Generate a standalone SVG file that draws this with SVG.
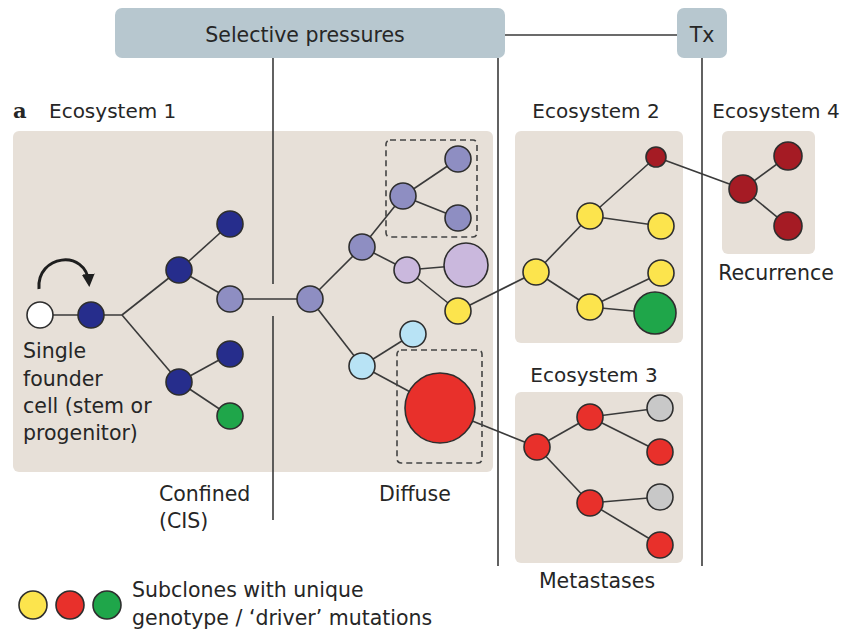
<svg xmlns="http://www.w3.org/2000/svg" width="846" height="634" viewBox="0 0 846 634">
<defs>
<style>
text{font-family:"DejaVu Sans","Liberation Sans",sans-serif;font-size:20.5px;fill:#262626}
.mid{text-anchor:middle}
.eco{fill:#e7e0d8}
.sp{fill:#b7c7cf}
.ln{stroke:#3a3a3a;stroke-width:1.6;fill:none}
.n{stroke:#2e2e2e;stroke-width:1.6}
.dash{fill:none;stroke:#444;stroke-width:1.6;stroke-dasharray:6 4}
.white{fill:#ffffff}
.dblue{fill:#262d8c}
.purp{fill:#8e8ec2}
.lilac{fill:#cab8dd}
.lblue{fill:#b8e3f5}
.yel{fill:#fce44d}
.red{fill:#e8302b}
.dred{fill:#a51b24}
.grn{fill:#1fa64a}
.grey{fill:#c8c8c8}
</style>
<marker id="ah" markerWidth="13" markerHeight="13" refX="9" refY="6.5" orient="auto" markerUnits="userSpaceOnUse">
<path d="M0,0 L13,6.5 L0,13 Z" fill="#1e1e1e"/>
</marker>
</defs>
<rect width="846" height="634" fill="#ffffff"/>

<g id="ecosystem-boxes">
<rect class="eco" x="13" y="131" width="480" height="341" rx="6"/>
<rect class="eco" x="515" y="131" width="168" height="212" rx="6"/>
<rect class="eco" x="722" y="131" width="93" height="123" rx="6"/>
<rect class="eco" x="515" y="392" width="168" height="171" rx="6"/>
</g>

<g id="pressure-lines">
<line class="ln" x1="505" y1="35" x2="677" y2="35"/>
<line class="ln" x1="273" y1="58" x2="273" y2="284"/>
<line class="ln" x1="273" y1="316" x2="273" y2="520"/>
<line class="ln" x1="498" y1="58" x2="498" y2="566"/>
<line class="ln" x1="702" y1="58" x2="702" y2="566"/>
</g>

<g id="selective-pressures">
<rect class="sp" x="115" y="8" width="390" height="50" rx="7"/>
<text class="mid" x="305" y="42">Selective pressures</text>
</g>
<g id="tx">
<rect class="sp" x="677" y="8" width="50" height="50" rx="7"/>
<text class="mid" x="702" y="42">Tx</text>
</g>

<g id="labels">
<text x="13" y="118" style="font-family:'DejaVu Serif','Liberation Serif',serif;font-weight:bold;font-size:21px">a</text>
<text x="49" y="118" style="font-size:20px">Ecosystem 1</text>
<text class="mid" x="596" y="118" style="font-size:20px">Ecosystem 2</text>
<text class="mid" x="776" y="118" style="font-size:20px">Ecosystem 4</text>
<text class="mid" x="594" y="382" style="font-size:20px">Ecosystem 3</text>
<text class="mid" x="776" y="280">Recurrence</text>
<text class="mid" x="597" y="588">Metastases</text>
<text x="23" y="358">Single</text>
<text x="23" y="386">founder</text>
<text x="23" y="413">cell (stem or</text>
<text x="23" y="440">progenitor)</text>
<text x="159" y="501">Confined</text>
<text x="159" y="528">(CIS)</text>
<text x="379" y="501">Diffuse</text>
</g>

<g id="connectors">
<line class="ln" x1="40" y1="315" x2="122" y2="315"/>
<line class="ln" x1="122" y1="315" x2="179" y2="270"/>
<line class="ln" x1="122" y1="315" x2="179" y2="382"/>
<line class="ln" x1="179" y1="270" x2="230" y2="224"/>
<line class="ln" x1="179" y1="270" x2="230" y2="299"/>
<line class="ln" x1="179" y1="382" x2="230" y2="354"/>
<line class="ln" x1="179" y1="382" x2="230" y2="416"/>
<line class="ln" x1="230" y1="299" x2="310" y2="299"/>
<line class="ln" x1="310" y1="299" x2="362" y2="247"/>
<line class="ln" x1="310" y1="299" x2="362" y2="366"/>
<line class="ln" x1="362" y1="247" x2="403" y2="196"/>
<line class="ln" x1="403" y1="196" x2="458" y2="159"/>
<line class="ln" x1="403" y1="196" x2="458" y2="218"/>
<line class="ln" x1="362" y1="247" x2="407" y2="270"/>
<line class="ln" x1="407" y1="270" x2="466" y2="265"/>
<line class="ln" x1="407" y1="270" x2="458" y2="311"/>
<line class="ln" x1="362" y1="366" x2="413" y2="334"/>
<line class="ln" x1="362" y1="366" x2="440" y2="408"/>
<line class="ln" x1="458" y1="311" x2="536" y2="272"/>
<line class="ln" x1="440" y1="408" x2="537" y2="447"/>
<line class="ln" x1="536" y1="272" x2="590" y2="216"/>
<line class="ln" x1="590" y1="216" x2="656" y2="157"/>
<line class="ln" x1="590" y1="216" x2="661" y2="226"/>
<line class="ln" x1="536" y1="272" x2="590" y2="307"/>
<line class="ln" x1="590" y1="307" x2="661" y2="273"/>
<line class="ln" x1="590" y1="307" x2="655" y2="313"/>
<line class="ln" x1="656" y1="157" x2="743" y2="189"/>
<line class="ln" x1="743" y1="189" x2="788" y2="156"/>
<line class="ln" x1="743" y1="189" x2="788" y2="226"/>
<line class="ln" x1="537" y1="447" x2="590" y2="417"/>
<line class="ln" x1="590" y1="417" x2="660" y2="408"/>
<line class="ln" x1="590" y1="417" x2="660" y2="452"/>
<line class="ln" x1="537" y1="447" x2="590" y2="503"/>
<line class="ln" x1="590" y1="503" x2="660" y2="497"/>
<line class="ln" x1="590" y1="503" x2="660" y2="545"/>
<path d="M39,289 C36,255 86,248 89,283" fill="none" stroke="#1e1e1e" stroke-width="3" marker-end="url(#ah)"/>
</g>

<g id="dashed-boxes">
<rect class="dash" x="386" y="140" width="91" height="97" rx="4"/>
<rect class="dash" x="397" y="350" width="85" height="113" rx="4"/>
</g>

<g id="founder"><circle class="n white" cx="40" cy="315" r="13"/></g>
<g id="n-b1"><circle class="n dblue" cx="91" cy="315" r="13"/></g>
<g id="n-b2"><circle class="n dblue" cx="179" cy="270" r="13"/></g>
<g id="n-b3"><circle class="n dblue" cx="230" cy="224" r="13"/></g>
<g id="n-p1"><circle class="n purp" cx="230" cy="299" r="13"/></g>
<g id="n-b4"><circle class="n dblue" cx="179" cy="382" r="13"/></g>
<g id="n-b5"><circle class="n dblue" cx="230" cy="354" r="13"/></g>
<g id="n-g1"><circle class="n grn" cx="230" cy="416" r="13"/></g>
<g id="n-p2"><circle class="n purp" cx="310" cy="299" r="13"/></g>
<g id="n-p3"><circle class="n purp" cx="362" cy="247" r="13"/></g>
<g id="n-p4"><circle class="n purp" cx="403" cy="196" r="13"/></g>
<g id="n-p5"><circle class="n purp" cx="458" cy="159" r="13"/></g>
<g id="n-p6"><circle class="n purp" cx="458" cy="218" r="13"/></g>
<g id="n-l1"><circle class="n lilac" cx="407" cy="270" r="13"/></g>
<g id="n-l2"><circle class="n lilac" cx="466" cy="265" r="22"/></g>
<g id="n-y1"><circle class="n yel" cx="458" cy="311" r="13"/></g>
<g id="n-c1"><circle class="n lblue" cx="362" cy="366" r="13"/></g>
<g id="n-c2"><circle class="n lblue" cx="413" cy="334" r="13"/></g>
<g id="n-r1"><circle class="n red" cx="440" cy="408" r="35"/></g>

<g id="e2-y1"><circle class="n yel" cx="536" cy="272" r="13"/></g>
<g id="e2-y2"><circle class="n yel" cx="590" cy="216" r="13"/></g>
<g id="e2-d1"><circle class="n dred" cx="656" cy="157" r="10"/></g>
<g id="e2-y3"><circle class="n yel" cx="661" cy="226" r="13"/></g>
<g id="e2-y4"><circle class="n yel" cx="590" cy="307" r="13"/></g>
<g id="e2-y5"><circle class="n yel" cx="661" cy="273" r="13"/></g>
<g id="e2-g1"><circle class="n grn" cx="655" cy="313" r="21"/></g>

<g id="e4-d1"><circle class="n dred" cx="743" cy="189" r="14"/></g>
<g id="e4-d2"><circle class="n dred" cx="788" cy="156" r="14"/></g>
<g id="e4-d3"><circle class="n dred" cx="788" cy="226" r="14"/></g>

<g id="e3-r1"><circle class="n red" cx="537" cy="447" r="13"/></g>
<g id="e3-r2"><circle class="n red" cx="590" cy="417" r="13"/></g>
<g id="e3-s1"><circle class="n grey" cx="660" cy="408" r="13"/></g>
<g id="e3-r3"><circle class="n red" cx="660" cy="452" r="13"/></g>
<g id="e3-r4"><circle class="n red" cx="590" cy="503" r="13"/></g>
<g id="e3-s2"><circle class="n grey" cx="660" cy="497" r="13"/></g>
<g id="e3-r5"><circle class="n red" cx="660" cy="545" r="13"/></g>

<g id="legend">
<circle class="n yel" cx="33" cy="605" r="14"/>
<circle class="n red" cx="70" cy="605" r="14"/>
<circle class="n grn" cx="107" cy="605" r="14"/>
<text x="132" y="597">Subclones with unique</text>
<text x="132" y="625">genotype / ‘driver’ mutations</text>
</g>
</svg>
